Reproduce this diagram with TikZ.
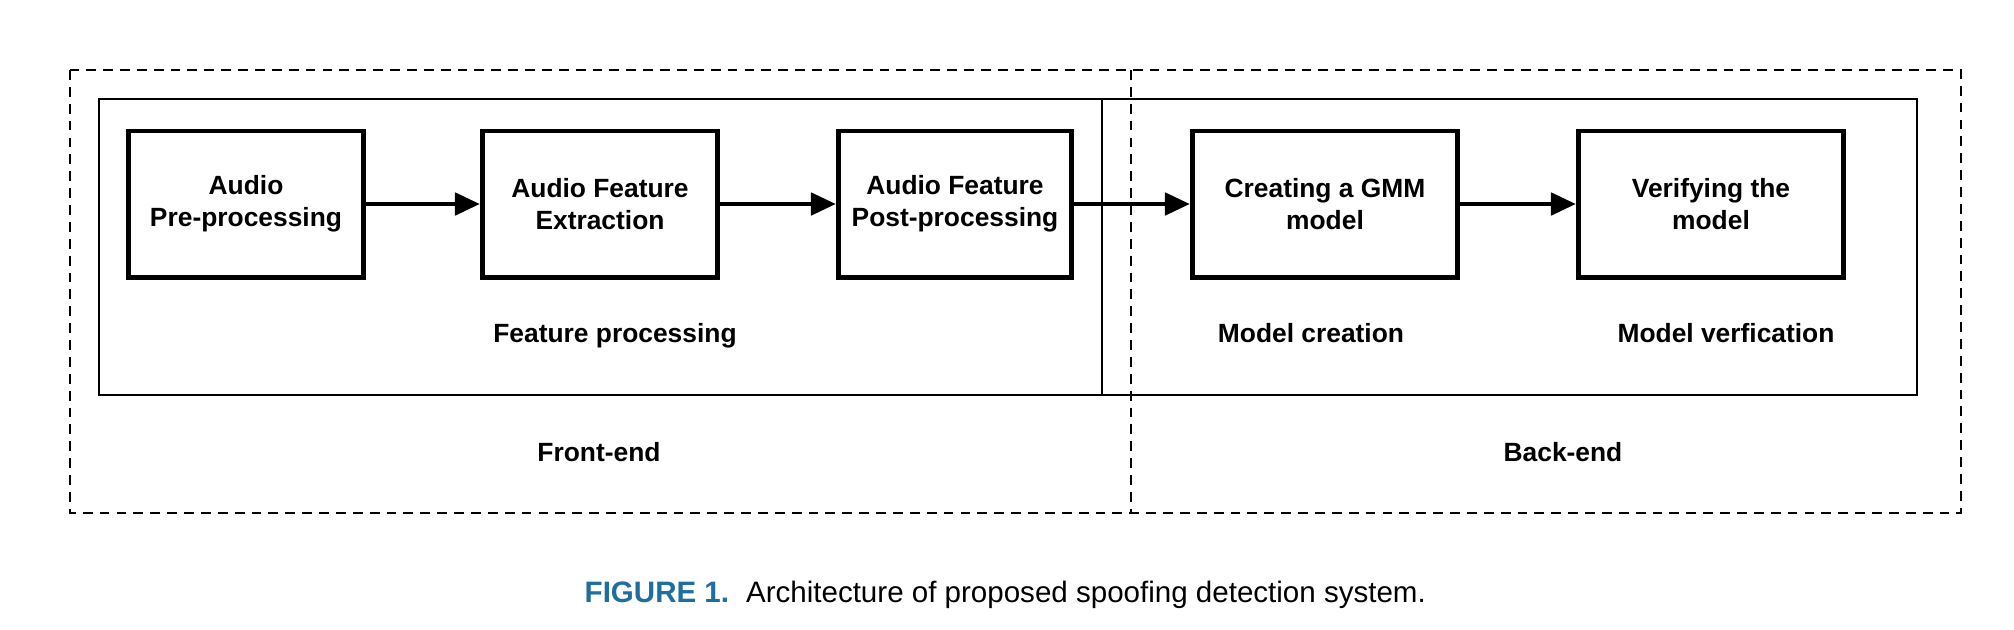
\documentclass[tikz,border=0pt]{standalone}
\usepackage{fontspec}
\setmainfont{Liberation Sans}
\usetikzlibrary{arrows.meta}
\definecolor{capblue}{RGB}{31,111,158}
\tikzset{
    stage/.style={draw, line width=1.4pt, minimum height=1.46cm, inner sep=0pt,
        align=center, font=\bfseries\fontsize{7.5}{9.2}\selectfont},
    zone/.style={line width=0.6pt, dash pattern=on 2.8pt off 2pt},
    part/.style={line width=0.6pt},
    tag/.style={anchor=base, font=\bfseries\fontsize{7.5}{9.2}\selectfont},
    flow/.style={-{Triangle[length=0.25cm, width=0.22cm]}, line width=1.4pt}
}
\begin{document}
\begin{tikzpicture}[x=0.01cm, y=-0.01cm]
    \useasboundingbox (0, 0) rectangle (2014, 630);

    % Draw front-end and back-end
    \coordinate (ftl) at (70, 70);
    \coordinate (bbr) at (1961, 513);
    \coordinate (mtop) at (1131, 70);
    \coordinate (mbot) at (1131, 513);
    \draw [zone] (ftl) rectangle (bbr);
    \draw [zone] (mtop) -- (mbot);

    % Feature processing and model parts
    \draw [part] (99, 99) rectangle (1102, 395);
    \draw [part] (1102, 99) rectangle (1917, 395);

    \node [stage, minimum width=2.35cm] (pre) at (246, 204) {Audio\\Pre-processing};
    \node [stage, minimum width=2.35cm] (ext) at (600, 204) {Audio Feature\\Extraction};
    \node [stage, minimum width=2.33cm] (post) at (955, 204) {Audio Feature\\Post-processing};
    \node [stage, minimum width=2.65cm] (gmm) at (1325, 204) {Creating a GMM\\model};
    \node [stage, minimum width=2.65cm] (ver) at (1711, 204) {Verifying the\\model};

    \draw [flow] (pre) -- (ext);
    \draw [flow] (ext) -- (post);
    \draw [flow] (post) -- (gmm);
    \draw [flow] (gmm) -- (ver);

    \node [tag] (lfp) at (615, 342) {Feature processing};
    \node [tag] (lmc) at (1311, 342) {Model creation};
    \node [tag] (lmv) at (1726, 342) {Model verfication};
    \node [tag] (lfe) at (599, 461) {Front-end};
    \node [tag] (lbe) at (1563, 461) {Back-end};

    \node [anchor=base west, inner sep=0pt, font=\fontsize{8.4}{10}\selectfont] (cap) at (584, 602)
        {{\color{capblue}\bfseries FIGURE 1.}\hspace{0.06cm} Architecture of proposed spoofing detection system.};

\end{tikzpicture}
\end{document}
